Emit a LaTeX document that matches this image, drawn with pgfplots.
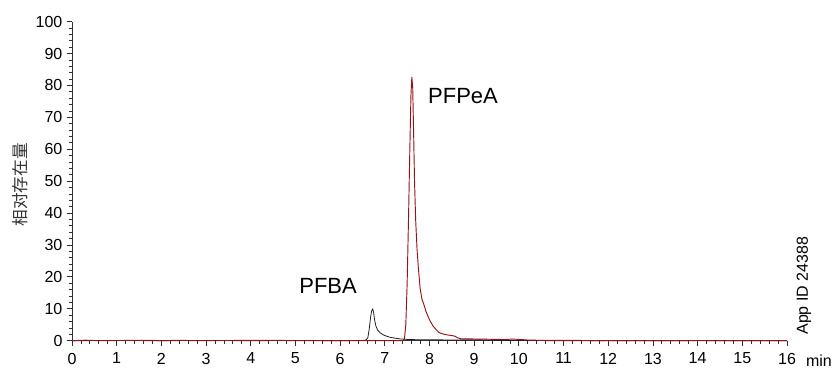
\documentclass[border=0pt]{standalone}
\usepackage{fontspec}
\setmainfont{Liberation Sans}
\newfontfamily\cjk{Noto Sans CJK SC}
\usepackage{pgfplots}
\pgfplotsset{compat=1.18}
\definecolor{peak}{RGB}{150,18,24}
\definecolor{trace}{RGB}{30,30,30}
\definecolor{axc}{RGB}{50,50,50}
\begin{document}
\begin{tikzpicture}
\useasboundingbox (-54pt,-22pt) rectangle (570.75pt,255.5pt);
\begin{axis}[
  at={(0,0)}, anchor=south west,
  scale only axis, width=536.25pt, height=239.25pt,
  xmin=0, xmax=16, ymin=0, ymax=100,
  axis x line*=bottom, axis y line*=left,
  axis line style={axc, line width=0.7pt, -},
  xtick={0,1,...,16}, ytick={0,10,...,100},
  minor x tick num=4, minor y tick num=4,
  tick align=outside,
  major tick length=4pt, minor tick length=2.6pt,
  tick style={axc, line width=0.6pt},
  /pgf/number format/assume math mode=true,
  tick label style={font=\fontsize{12}{12}\selectfont, inner sep=0pt},
  xticklabel style={anchor=north, yshift=-5pt},
  yticklabel style={anchor=east, xshift=-3pt},
  clip=false,
]
\addplot[trace, line width=0.6pt] coordinates {
(0,0) (1,0.05) (2,0) (3,0.05) (4,0) (5,0.05) (6,0) (6.5,0.05) (6.58,0.2) (6.62,0.9) (6.65,3.5) (6.68,7.2) (6.705,9.3) (6.73,9.9) (6.75,8.8) (6.77,6.6) (6.80,4.6) (6.84,3.3) (6.90,2.4) (6.97,1.8) (7.05,1.35) (7.12,1.05) (7.2,0.85) (7.34,0.55) (7.5,0.4) (7.8,0.25) (8.0,0.3) (8.5,0.2) (9.0,0.3) (9.5,0.1) (10,0.05) (11,0) (12,0.02) (13,0) (14,0.02) (15,0) (16,0)
};
\addplot[peak, line width=0.7pt] coordinates {
(0,0) (0.3,0.15) (0.6,0) (1.7,0.12) (2.0,0) (2.4,0.12) (2.7,0) (4.2,0.1) (4.5,0.12) (5,0) (6,0) (7,0) (7.40,0) (7.44,0.6) (7.47,5) (7.50,18) (7.53,38) (7.56,60) (7.585,77) (7.605,82.7) (7.625,79) (7.645,65) (7.665,50) (7.69,38) (7.72,29) (7.75,23) (7.79,16.5) (7.83,13) (7.87,11.5) (7.92,9.2) (7.97,7.5) (8.02,6.0) (8.08,4.6) (8.15,3.4) (8.22,2.5) (8.30,2.1) (8.4,1.8) (8.5,1.6) (8.57,1.4) (8.63,0.9) (8.7,0.6) (8.9,0.55) (9.1,0.5) (9.3,0.45) (9.5,0.4) (9.7,0.35) (9.85,0.5) (10.0,0.4) (10.2,0.2) (10.5,0.1) (11,0.1) (12,0) (13,0) (14,0.05) (15,0) (16,0)
};
\node[font=\fontsize{16.5}{16.5}\selectfont, inner sep=0pt] at (axis cs:8.75,76.7) {PFPeA};
\node[font=\fontsize{16.5}{16.5}\selectfont, inner sep=0pt] at (axis cs:5.73,17.1) {PFBA};
\node[font=\fontsize{12}{12}\selectfont, inner sep=0pt, anchor=base west] at (axis cs:16.42,0) [yshift=-19.7pt] {min};
\node[font=\fontsize{12}{12}\selectfont, inner sep=0pt, rotate=90, anchor=west] at (axis cs:16.38,1.8) {App ID 24388};
\node[font=\cjk\fontsize{12.5}{12.5}\selectfont, text=black!80, inner sep=0pt, rotate=90] at ([xshift=-39pt]rel axis cs:0,0.488) {相对存在量};
\end{axis}
\end{tikzpicture}
\end{document}
